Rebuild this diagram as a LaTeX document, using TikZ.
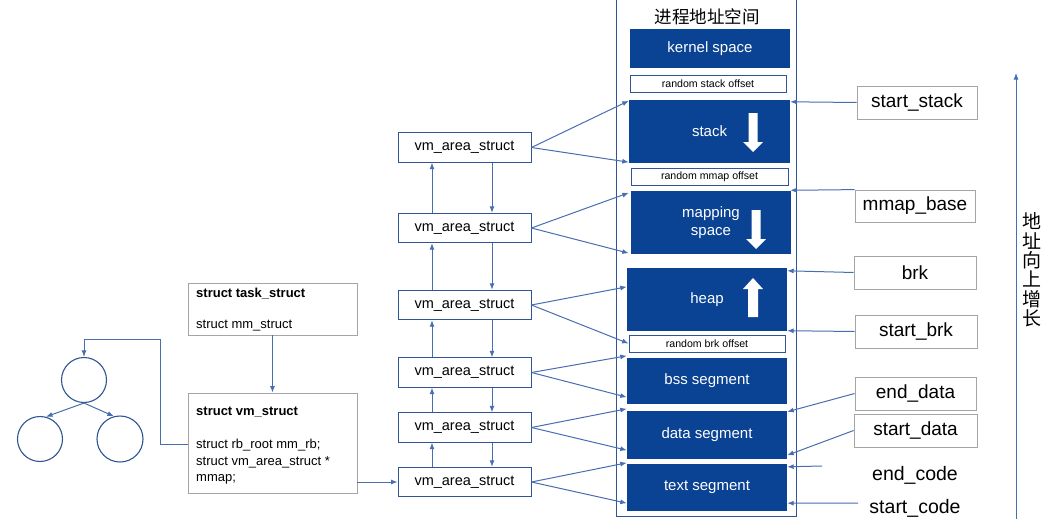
\documentclass[tikz,border=0pt]{standalone}
\usepackage{fontspec}
\setmainfont{Liberation Sans}
\newfontfamily\cjk{Noto Sans CJK SC}
\usetikzlibrary{arrows.meta,calc}
\definecolor{blockblue}{RGB}{10,66,148}
\definecolor{linkblue}{RGB}{72,110,178}
\definecolor{boxblue}{RGB}{47,85,151}
\definecolor{graybox}{RGB}{165,165,165}
\tikzset{
  blk/.style={fill=blockblue, draw=none, text=white, font=\fontsize{15}{18.5}\selectfont, inner sep=0, align=center, minimum width=160pt},
  offs/.style={draw=boxblue, line width=0.8pt, fill=white, font=\fontsize{10.6}{12}\selectfont, inner sep=0, minimum height=17pt},
  vma/.style={draw=boxblue, line width=0.9pt, minimum width=133pt, minimum height=29.5pt, inner sep=0, font=\fontsize{14.5}{17}\selectfont},
  lbl/.style={draw=graybox, line width=0.8pt, minimum width=121pt, minimum height=33pt, inner sep=0, font=\fontsize{19}{22}\selectfont},
  freelbl/.style={inner sep=0, font=\fontsize{19.5}{22}\selectfont},
  conn/.style={draw=linkblue, line width=1pt, -{Latex[length=6.5pt,width=5pt]}},
  srcbox/.style={draw=graybox, line width=0.8pt, inner sep=0},
  circ/.style={circle, draw=boxblue, line width=1.1pt, inner sep=0},
  txt/.style={inner sep=0, anchor=west, align=left, font=\fontsize{13}{16.5}\selectfont},
  btxt/.style={inner sep=0, anchor=west, font=\bfseries\fontsize{13}{16.5}\selectfont},
  blockdown/.pic={\fill[white] (-4.5,0)--(4.5,0)--(4.5,29)--(10,29)--(0,39)--(-10,29)--(-4.5,29)--cycle;},
  blockup/.pic={\fill[white] (0,0)--(10,11)--(5,11)--(5,39)--(-5,39)--(-5,11)--(-10,11)--cycle;}
}
\begin{document}
\begin{tikzpicture}[x=1pt,y=-1pt]
\useasboundingbox[fill=white] (0,0) rectangle (1059,519);

% address space frame
\draw[boxblue, line width=0.9pt] (616,-2) -- (616,516) -- (796,516) -- (796,-2);
\node[font=\cjk\fontsize{17.5}{20}\selectfont, inner sep=0] (title) at (707,17) {进程地址空间};

% blocks
\node[blk, minimum height=39pt] (kernel) at (710,48.5) {kernel space};
\node[offs, minimum width=156pt] (rso) at (708,83.5) {random stack offset};
\node[blk, minimum height=63pt, minimum width=161pt] (stack) at (709.5,131.5) {stack};
\node[offs, minimum width=157pt] (rmo) at (709.5,176.5) {random mmap offset};
\node[blk, minimum height=63pt] (mapping) at (711,222.5) {mapping\\space};
\node[blk, minimum height=63pt] (heap) at (707,299.5) {heap};
\node[offs, minimum width=156pt] (rbo) at (707,343.5) {random brk offset};
\node[blk, minimum height=46pt] (bss) at (707,381) {bss segment};
\node[blk, minimum height=48pt] (data) at (707,435) {data segment};
\node[blk, minimum height=47pt] (text) at (707,487.5) {text segment};

\pic at (753,113) {blockdown};
\pic at (756,210) {blockdown};
\pic at (753,278) {blockup};

% vm_area_struct chain
\node[vma] (v1) at (464.5,147.5) {vm\_area\_struct};
\node[vma] (v2) at (464.5,228) {vm\_area\_struct};
\node[vma] (v3) at (464.5,305) {vm\_area\_struct};
\node[vma] (v4) at (464.5,372.5) {vm\_area\_struct};
\node[vma] (v5) at (464.5,427.5) {vm\_area\_struct};
\node[vma] (v6) at (464.5,482) {vm\_area\_struct};

\foreach \a/\b in {v1/v2,v2/v3,v3/v4,v4/v5,v5/v6}{
  \draw[conn] ([xshift=27.5pt]\a.south) -- ([xshift=27.5pt]\b.north);
  \draw[conn] ([xshift=-32.5pt]\b.north) -- ([xshift=-32.5pt]\a.south);
}

% vm_area -> blocks
\draw[conn] (v1.east) -- ($(stack.north west)+(0,1)$);
\draw[conn] (v1.east) -- ($(stack.south west)+(0,-1)$);
\draw[conn] (v2.east) -- ($(mapping.north west)+(-2,2)$);
\draw[conn] (v2.east) -- ($(mapping.south west)+(-2,-1)$);
\draw[conn] (v3.east) -- ($(heap.north west)+(0,19)$);
\draw[conn] (v3.east) -- (rbo.west);
\draw[conn] (v4.east) -- ($(bss.north west)+(0,-2)$);
\draw[conn] (v4.east) -- ($(bss.south west)+(0,-7)$);
\draw[conn] (v5.east) -- ($(data.north west)+(0,-2)$);
\draw[conn] (v5.east) -- ($(data.south west)+(0,-9)$);
\draw[conn] (v6.east) -- ($(text.north west)+(0,-1)$);
\draw[conn] (v6.east) -- ($(text.south west)+(0,-8)$);

% right labels
\node[lbl, minimum width=120pt] (sstack) at (917,102.5) {start\_stack};
\node[lbl, minimum width=120pt, minimum height=32pt] (mbase) at (915,206) {mmap\_base};
\node[lbl, minimum width=122pt] (brk) at (915,272.5) {brk};
\node[lbl, minimum width=122pt] (sbrk) at (916,331.5) {start\_brk};
\node[lbl] (edata) at (915.5,393.5) {end\_data};
\node[lbl, minimum width=123pt] (sdata) at (915.5,430.5) {start\_data};
\node[freelbl] (ecode) at (915,475) {end\_code};
\node[freelbl] (scode) at (915,508) {start\_code};
\coordinate (ecs) at (822,466);
\coordinate (scs) at (858,503);

\draw[conn] (sstack.west) -- ($(stack.north east)+(0,2)$);
\draw[conn] (mbase.north west) -- ($(mapping.north east)+(-1,-0.5)$);
\draw[conn] (brk.west) -- ($(heap.north east)+(0,3)$);
\draw[conn] (sbrk.west) -- ($(heap.south east)+(0,-0.5)$);
\draw[conn] (edata.west) -- ($(data.north east)+(0,1)$);
\draw[conn] (sdata.west) -- ($(data.south east)+(0,-4)$);
\draw[conn] (ecs) -- ($(text.north east)+(0,3)$);
\draw[conn] (scs) -- ($(text.south east)+(0,-8)$);

% growth arrow
\coordinate (up0) at (1016,519);
\coordinate (up1) at (1016,73);
\draw[conn] (up0) -- (up1);
\node[font=\cjk\fontsize{19}{19.4}\selectfont, align=center, inner sep=0] (grow) at (1032,270) {地\\址\\向\\上\\增\\长};

% task_struct / vm_struct
\node[srcbox, minimum width=169pt, minimum height=52pt] (ts) at (272.5,309) {};
\node[btxt] (tstitle) at (196,294) {struct task\_struct};
\node[txt] (tsmm) at (196,326) {struct mm\_struct};
\node[srcbox, minimum width=169pt, minimum height=100pt] (vs) at (272.5,443) {};
\node[btxt] (vstitle) at (196,412) {struct vm\_struct};
\node[txt] (vsbody) at (196,462) {struct rb\_root mm\_rb;\\struct vm\_area\_struct *\\mmap;};

\draw[conn] (ts.south) -- (vs.north);
\draw[conn] (vs.east |- v6.west) -- (v6.west);

% rb tree
\node[circ, minimum size=45pt] (c1) at (84,380) {};
\node[circ, minimum size=45pt] (c2) at (40,439) {};
\node[circ, minimum size=46pt] (c3) at (120,439) {};
\draw[conn] (c1.south) -- (c2.75);
\draw[conn] (c1.south) -- (c3.105);
\coordinate (e1) at (160,444);
\coordinate (e2) at (160,339);
\draw[conn] (vs.west |- e1) -- (e1) -- (e2) -- (e2 -| c1) -- (c1.north);
\end{tikzpicture}
\end{document}
